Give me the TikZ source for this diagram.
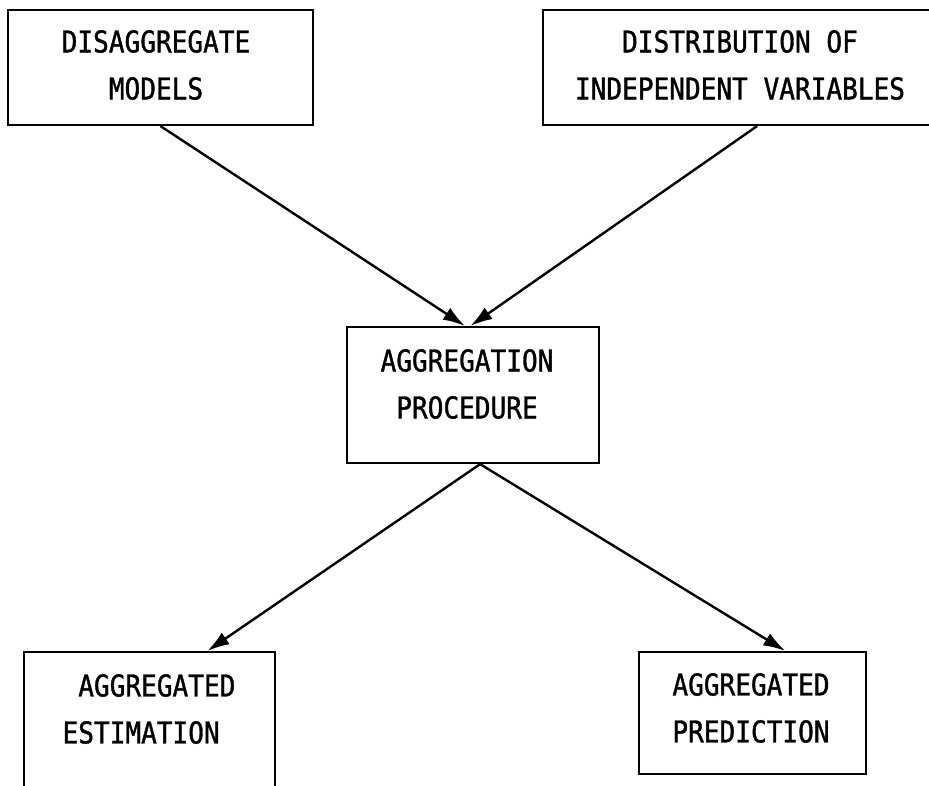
\documentclass[tikz,border=0pt]{standalone}
\usepackage{fontspec}
\newfontfamily\typefont[FakeStretch=0.87,FakeBold=1.2]{DejaVu Sans Mono}
\usetikzlibrary{arrows.meta,calc}
\begin{document}
\begin{tikzpicture}[x=1pt,y=-1pt,
  box/.style={draw,line width=2.2pt,inner sep=0pt},
  lbl/.style={font=\typefont\fontsize{30}{47}\selectfont,align=center,inner sep=0pt},
  conn/.style={line width=2.4pt,-{Latex[length=22pt,width=14pt]}}]
\useasboundingbox (0,0) rectangle (929,785);
% boxes
\node[box,minimum width=305pt,minimum height=115pt] (tl) at (160.5,67.5) {};
\node[box,minimum width=394pt,minimum height=115pt] (tr) at (740,67.5) {};
\node[box,minimum width=252pt,minimum height=136pt] (mid) at (473,395) {};
\node[box,minimum width=251pt,minimum height=143pt] (bl) at (149.5,723.5) {};
\node[box,minimum width=227pt,minimum height=122pt] (br) at (752.5,713) {};
% texts
\node[lbl] (tltext) at (156,65) {DISAGGREGATE\\MODELS};
\node[lbl] (trtext) at (740,65) {DISTRIBUTION OF\\INDEPENDENT VARIABLES};
\node[lbl] (midtext) at (467,384) {AGGREGATION\\PROCEDURE};
\node[lbl,align=left] (bltext) at (149,709) {\phantom{A}AGGREGATED\\ESTIMATION};
\node[lbl] (brtext) at (751,708) {AGGREGATED\\PREDICTION};
% connectors
\draw[conn] (tl.south) -- ($(mid.north west)!0.468!(mid.north east)$);
\draw[conn] ($(tr.south west)!0.543!(tr.south east)$) -- ($(mid.north west)!0.49!(mid.north east)$);
\draw[conn] ($(mid.south west)!0.528!(mid.south east)$) -- ($(bl.north west)!0.729!(bl.north east)$);
\draw[conn] ($(mid.south west)!0.528!(mid.south east)$) -- ($(br.north west)!0.643!(br.north east)$);
\end{tikzpicture}
\end{document}
